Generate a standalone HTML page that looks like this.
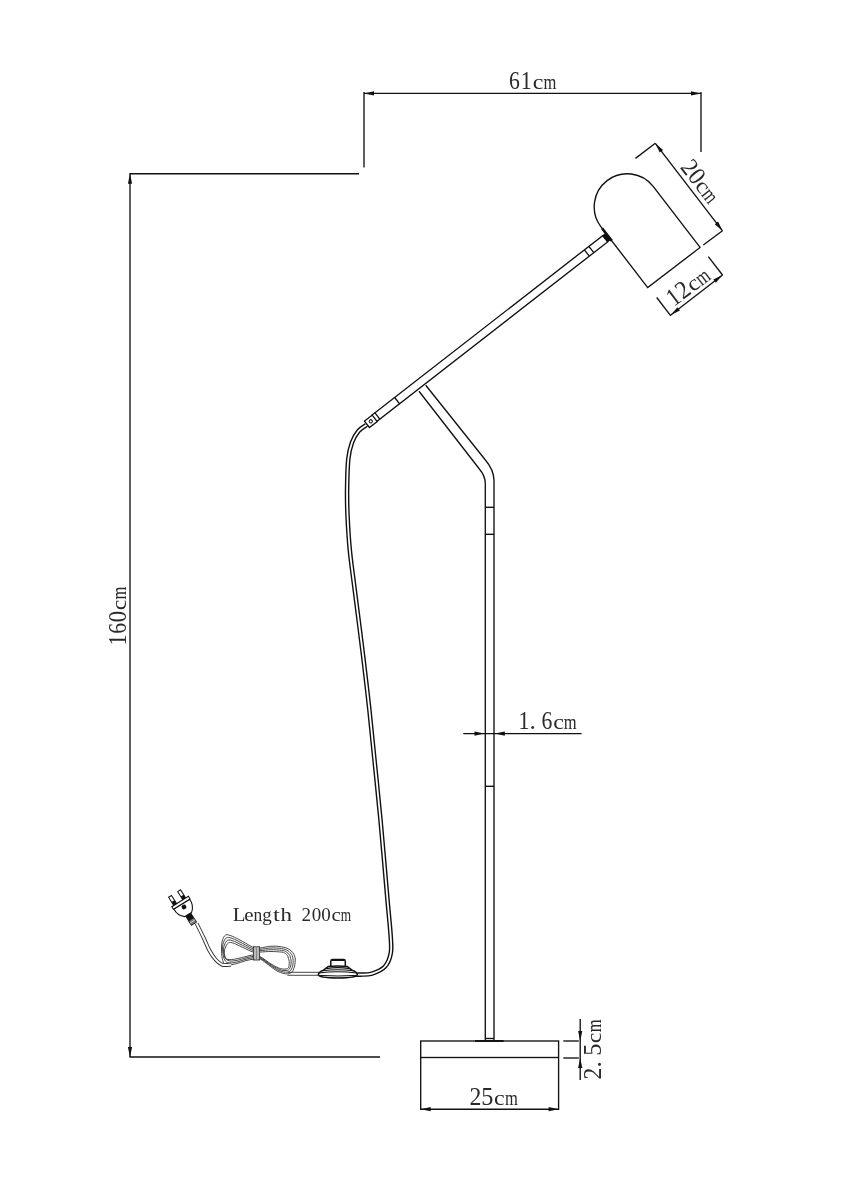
<!DOCTYPE html>
<html><head><meta charset="utf-8"><style>
html,body{margin:0;padding:0;background:#fff;}
svg{display:block;will-change:transform;}
text{font-family:"Liberation Serif", serif;fill:#2a2a2a;}
</style></head><body>
<svg width="849" height="1200" viewBox="0 0 849 1200">
<line x1="364.00" y1="93.40" x2="701.00" y2="93.40" stroke="#111" stroke-width="1.35"/>
<polygon points="364.00,93.40 374.00,91.30 374.00,95.50" fill="#111"/>
<polygon points="701.00,93.40 691.00,95.50 691.00,91.30" fill="#111"/>
<line x1="364.00" y1="92.00" x2="364.00" y2="167.50" stroke="#111" stroke-width="1.35"/>
<line x1="701.00" y1="92.00" x2="701.00" y2="152.00" stroke="#111" stroke-width="1.35"/>
<g transform="translate(0.00 0.00) rotate(0)" font-size="25.5" text-anchor="middle"><text transform="translate(514.50 89.30) scale(0.85 1)">6</text><text transform="translate(526.30 89.30) scale(0.86 1)">1</text><text transform="translate(538.10 89.30) scale(0.94 0.86)">c</text><text transform="translate(549.90 89.30) scale(0.65 0.86)">m</text></g>
<line x1="129.50" y1="173.70" x2="359.00" y2="173.70" stroke="#111" stroke-width="1.35"/>
<line x1="129.50" y1="1057.00" x2="380.00" y2="1057.00" stroke="#111" stroke-width="1.35"/>
<line x1="130.00" y1="173.70" x2="130.00" y2="1057.00" stroke="#111" stroke-width="1.35"/>
<polygon points="130.00,173.70 132.10,183.70 127.90,183.70" fill="#111"/>
<polygon points="130.00,1057.00 127.90,1047.00 132.10,1047.00" fill="#111"/>
<g transform="translate(125.60 640.10) rotate(-90)" font-size="25.5" text-anchor="middle"><text transform="translate(0.00 0.00) scale(0.86 1)">1</text><text transform="translate(11.75 0.00) scale(0.85 1)">6</text><text transform="translate(23.50 0.00) scale(0.92 1)">0</text><text transform="translate(35.25 0.00) scale(0.94 0.86)">c</text><text transform="translate(47.00 0.00) scale(0.65 0.86)">m</text></g>
<path d="M700.06,247.46 L653.17,186.40 A33,33 0 0 0 600.83,226.60 L647.72,287.66 Z" fill="none" stroke="#111" stroke-width="1.35"/>
<line x1="655.30" y1="143.30" x2="722.50" y2="230.80" stroke="#111" stroke-width="1.35"/>
<polygon points="655.30,143.30 663.06,149.95 659.73,152.51" fill="#111"/>
<polygon points="722.50,230.80 714.74,224.15 718.07,221.59" fill="#111"/>
<line x1="635.50" y1="158.40" x2="655.30" y2="143.30" stroke="#111" stroke-width="1.35"/>
<line x1="722.50" y1="230.80" x2="703.30" y2="245.00" stroke="#111" stroke-width="1.35"/>
<line x1="670.80" y1="315.00" x2="722.50" y2="275.00" stroke="#111" stroke-width="1.35"/>
<polygon points="670.80,315.00 677.42,307.22 679.99,310.54" fill="#111"/>
<polygon points="722.50,275.00 715.88,282.78 713.31,279.46" fill="#111"/>
<line x1="708.30" y1="256.70" x2="722.50" y2="275.00" stroke="#111" stroke-width="1.35"/>
<line x1="656.70" y1="297.50" x2="670.80" y2="315.80" stroke="#111" stroke-width="1.35"/>
<g transform="translate(654.80 143.50) rotate(51.9)" font-size="25.5" text-anchor="middle"><text transform="translate(40.00 -4.60) scale(0.93 1)">2</text><text transform="translate(51.70 -4.60) scale(0.92 1)">0</text><text transform="translate(63.40 -4.60) scale(0.94 0.86)">c</text><text transform="translate(75.10 -4.60) scale(0.65 0.86)">m</text></g>
<g transform="translate(671.10 314.40) rotate(-37.1)" font-size="25.5" text-anchor="middle"><text transform="translate(12.30 -4.20) scale(0.86 1)">1</text><text transform="translate(24.10 -4.20) scale(0.93 1)">2</text><text transform="translate(35.90 -4.20) scale(0.94 0.86)">c</text><text transform="translate(47.70 -4.20) scale(0.65 0.86)">m</text></g>
<polygon points="371.80,415.30 602.70,235.60 607.61,241.91 376.71,421.61" fill="none" stroke="#111" stroke-width="1.35"/>
<line x1="374.96" y1="412.84" x2="379.87" y2="419.16" stroke="#111" stroke-width="1.35"/>
<line x1="394.69" y1="397.49" x2="399.60" y2="403.80" stroke="#111" stroke-width="1.35"/>
<line x1="584.39" y1="249.85" x2="589.30" y2="256.16" stroke="#111" stroke-width="1.35"/>
<line x1="588.89" y1="246.35" x2="593.80" y2="252.66" stroke="#111" stroke-width="1.35"/>
<polygon points="602.70,235.60 605.86,233.14 610.73,239.49 607.61,241.91" fill="#111" stroke="#111" stroke-width="1"/>
<line x1="602.05" y1="228.18" x2="611.79" y2="240.87" stroke="#111" stroke-width="2.6"/>
<path d="M419,391.25 L479,468.5 Q485.3,476 485.3,483.5 L485.3,1041" fill="none" stroke="#111" stroke-width="1.35"/>
<path d="M425.75,385.25 L485,459.5 Q494,470 494,480.5 L494,1041" fill="none" stroke="#111" stroke-width="1.35"/>
<line x1="485.30" y1="507.30" x2="494.00" y2="507.30" stroke="#111" stroke-width="1.35"/>
<line x1="485.30" y1="534.30" x2="494.00" y2="534.30" stroke="#111" stroke-width="1.35"/>
<line x1="485.30" y1="786.30" x2="494.00" y2="786.30" stroke="#111" stroke-width="1.35"/>
<line x1="485.30" y1="1038.50" x2="494.00" y2="1038.50" stroke="#111" stroke-width="1.35"/>
<line x1="463.30" y1="733.60" x2="581.60" y2="733.60" stroke="#111" stroke-width="1.35"/>
<polygon points="484.50,733.60 474.50,735.70 474.50,731.50" fill="#111"/>
<polygon points="494.80,733.60 504.80,731.50 504.80,735.70" fill="#111"/>
<g transform="translate(0.00 0.00) rotate(0)" font-size="25.5" text-anchor="middle"><text transform="translate(524.10 729.20) scale(0.86 1)">1</text><text transform="translate(532.60 729.20) scale(1 1)">.</text><text transform="translate(546.80 729.20) scale(0.85 1)">6</text><text transform="translate(558.50 729.20) scale(0.94 0.86)">c</text><text transform="translate(570.30 729.20) scale(0.65 0.86)">m</text></g>
<rect x="420.7" y="1041" width="137.9" height="16.5" fill="none" stroke="#111" stroke-width="1.35"/>
<line x1="475.00" y1="1041.00" x2="503.60" y2="1041.00" stroke="#111" stroke-width="1.9"/>
<line x1="420.70" y1="1058.00" x2="420.70" y2="1110.00" stroke="#111" stroke-width="1.35"/>
<line x1="558.60" y1="1058.00" x2="558.60" y2="1110.00" stroke="#111" stroke-width="1.35"/>
<line x1="420.70" y1="1109.20" x2="558.60" y2="1109.20" stroke="#111" stroke-width="1.35"/>
<polygon points="420.70,1109.20 430.70,1107.10 430.70,1111.30" fill="#111"/>
<polygon points="558.60,1109.20 548.60,1111.30 548.60,1107.10" fill="#111"/>
<g transform="translate(0.00 0.00) rotate(0)" font-size="25.5" text-anchor="middle"><text transform="translate(475.40 1104.50) scale(0.93 1)">2</text><text transform="translate(487.40 1104.50) scale(0.95 1)">5</text><text transform="translate(499.40 1104.50) scale(0.94 0.86)">c</text><text transform="translate(511.40 1104.50) scale(0.65 0.86)">m</text></g>
<line x1="563.30" y1="1041.00" x2="578.80" y2="1041.00" stroke="#111" stroke-width="1.35"/>
<line x1="563.30" y1="1058.00" x2="578.80" y2="1058.00" stroke="#111" stroke-width="1.35"/>
<line x1="580.20" y1="1019.00" x2="580.20" y2="1041.00" stroke="#111" stroke-width="1.35"/>
<polygon points="580.20,1041.00 578.10,1031.00 582.30,1031.00" fill="#111"/>
<line x1="580.20" y1="1058.00" x2="580.20" y2="1080.00" stroke="#111" stroke-width="1.35"/>
<line x1="580.20" y1="1041.00" x2="580.20" y2="1058.00" stroke="#111" stroke-width="1.35"/>
<polygon points="580.20,1058.00 582.30,1068.00 578.10,1068.00" fill="#111"/>
<g transform="translate(601.10 1073.60) rotate(-90)" font-size="25.5" text-anchor="middle"><text transform="translate(0.00 0.00) scale(0.93 1)">2</text><text transform="translate(9.20 0.00) scale(1 1)">.</text><text transform="translate(24.00 0.00) scale(0.95 1)">5</text><text transform="translate(35.70 0.00) scale(0.94 0.86)">c</text><text transform="translate(47.70 0.00) scale(0.65 0.86)">m</text></g>
<path d="M366.50,425.00 C365.17,426.00 360.92,428.08 358.50,431.00 C356.08,433.92 353.70,437.83 352.00,442.50 C350.30,447.17 349.12,451.28 348.30,459.00 C347.48,466.72 347.23,479.47 347.10,488.80 C346.97,498.13 347.05,504.80 347.50,515.00 C347.95,525.20 348.70,538.33 349.80,550.00 C350.90,561.67 351.90,567.50 354.10,585.00 C356.30,602.50 360.45,634.17 363.00,655.00 C365.55,675.83 367.40,691.67 369.40,710.00 C371.40,728.33 373.15,746.67 375.00,765.00 C376.85,783.33 378.42,797.50 380.50,820.00 C382.58,842.50 385.82,880.83 387.50,900.00 C389.18,919.17 390.05,926.17 390.60,935.00 C391.15,943.83 391.73,947.75 390.80,953.00 C389.87,958.25 388.13,963.07 385.00,966.50 C381.87,969.93 376.17,972.25 372.00,973.60 C367.83,974.95 363.67,974.42 360.00,974.60 C356.33,974.78 351.67,974.68 350.00,974.70" fill="none" stroke="#111" stroke-width="4.6"/>
<path d="M366.50,425.00 C365.17,426.00 360.92,428.08 358.50,431.00 C356.08,433.92 353.70,437.83 352.00,442.50 C350.30,447.17 349.12,451.28 348.30,459.00 C347.48,466.72 347.23,479.47 347.10,488.80 C346.97,498.13 347.05,504.80 347.50,515.00 C347.95,525.20 348.70,538.33 349.80,550.00 C350.90,561.67 351.90,567.50 354.10,585.00 C356.30,602.50 360.45,634.17 363.00,655.00 C365.55,675.83 367.40,691.67 369.40,710.00 C371.40,728.33 373.15,746.67 375.00,765.00 C376.85,783.33 378.42,797.50 380.50,820.00 C382.58,842.50 385.82,880.83 387.50,900.00 C389.18,919.17 390.05,926.17 390.60,935.00 C391.15,943.83 391.73,947.75 390.80,953.00 C389.87,958.25 388.13,963.07 385.00,966.50 C381.87,969.93 376.17,972.25 372.00,973.60 C367.83,974.95 363.67,974.42 360.00,974.60 C356.33,974.78 351.67,974.68 350.00,974.70" fill="none" stroke="#fff" stroke-width="1.8"/>
<g transform="translate(370.8 421.3) rotate(-37.5)"><rect x="-4.9" y="-4.1" width="9.8" height="8.2" fill="#fff" stroke="#111" stroke-width="1.3"/><circle cx="0" cy="0" r="1.6" fill="none" stroke="#111" stroke-width="1"/></g>
<path d="M330.8,966.2 L330.8,961.2 Q330.8,959.6 332.5,959.6 L343.6,959.6 Q345.3,959.6 345.3,961.2 L345.3,966.2" fill="#fff" stroke="#111" stroke-width="1.5"/>
<line x1="331.50" y1="960.20" x2="344.60" y2="960.20" stroke="#111" stroke-width="1.6"/>
<path d="M318.3,974.6 Q318.5,971.8 323.5,970.2 L328,966.6 Q337.8,965.4 347.5,966.6 L352,970.2 Q357.3,971.8 357.3,974.6 Q357,977.8 337.8,977.9 Q318.6,977.8 318.3,974.6 Z" fill="#fff" stroke="#111" stroke-width="1.5"/>
<path d="M326,968.6 Q337.8,966.8 349.6,968.6" fill="none" stroke="#111" stroke-width="1.2"/>
<path d="M322.5,970.8 Q337.8,968.8 353.1,970.8" fill="none" stroke="#111" stroke-width="1.1"/>
<path d="M319,973.0 Q337.8,970.6 356.6,973.0" fill="none" stroke="#111" stroke-width="1.1"/>
<path d="M319.2,975.4 Q337.8,976.6 356.4,975.4" fill="none" stroke="#111" stroke-width="1.0"/>
<path d="M253.30,952.10 C250.35,951.33 246.23,948.97 242.70,947.40 C239.17,945.83 234.65,943.30 232.10,942.70 C229.55,942.10 228.68,942.43 227.40,943.80 C226.12,945.17 224.70,948.53 224.40,950.90 C224.10,953.27 224.83,956.55 225.60,958.00 C226.37,959.45 227.52,959.40 229.00,959.60 C230.48,959.80 232.67,959.47 234.50,959.20 C236.33,958.93 238.25,958.40 240.00,958.00 C241.75,957.60 242.78,957.30 245.00,956.80 C247.22,956.30 250.73,955.00 253.30,955.00 C255.87,955.00 257.45,955.32 260.40,956.80 C263.35,958.28 267.67,961.93 271.00,963.90 C274.33,965.87 277.65,967.82 280.40,968.60 C283.15,969.38 286.07,969.12 287.50,968.60 C288.93,968.08 288.72,966.68 289.00,965.50 C289.28,964.32 289.45,963.15 289.20,961.50 C288.95,959.85 288.27,957.02 287.50,955.60 C286.73,954.18 285.58,953.58 284.60,953.00 C283.62,952.42 283.87,952.35 281.60,952.10 C279.33,951.85 274.53,951.52 271.00,951.50 C267.47,951.48 263.35,951.90 260.40,952.00 C257.45,952.10 256.25,952.87 253.30,952.10 Z" fill="none" stroke="#333" stroke-width="0.9"/>
<path d="M253.30,950.53 C250.38,949.66 246.23,947.10 242.70,945.43 C239.17,943.77 234.75,941.29 232.10,940.53 C229.45,939.77 228.21,939.66 226.80,940.87 C225.39,942.07 224.06,945.31 223.63,947.77 C223.21,950.23 223.69,953.62 224.23,955.63 C224.78,957.64 225.65,958.92 226.90,959.83 C228.15,960.75 229.79,961.11 231.73,961.13 C233.67,961.16 236.32,960.46 238.53,959.97 C240.74,959.47 242.54,958.76 245.00,958.17 C247.46,957.57 250.73,956.49 253.30,956.40 C255.87,956.31 257.58,956.29 260.40,957.60 C263.22,958.91 267.00,962.27 270.20,964.27 C273.40,966.26 276.72,968.55 279.60,969.57 C282.48,970.58 285.72,970.74 287.50,970.37 C289.28,969.99 289.66,968.71 290.27,967.30 C290.88,965.89 291.24,963.85 291.17,961.90 C291.09,959.95 290.64,957.27 289.83,955.60 C289.03,953.93 287.71,952.78 286.33,951.90 C284.96,951.02 284.16,950.69 281.60,950.33 C279.04,949.97 274.57,949.68 271.00,949.73 C267.43,949.79 263.15,950.53 260.20,950.67 C257.25,950.80 256.22,951.41 253.30,950.53 Z" fill="none" stroke="#333" stroke-width="0.9"/>
<path d="M253.30,948.97 C250.42,947.99 246.23,945.23 242.70,943.47 C239.17,941.70 234.85,939.29 232.10,938.37 C229.35,937.44 227.74,936.89 226.20,937.93 C224.66,938.98 223.42,942.08 222.87,944.63 C222.31,947.19 222.54,950.69 222.87,953.27 C223.19,955.84 223.78,958.43 224.80,960.07 C225.82,961.70 226.92,962.76 228.97,963.07 C231.01,963.38 234.39,962.52 237.07,961.93 C239.74,961.34 242.29,960.22 245.00,959.53 C247.71,958.84 250.73,957.99 253.30,957.80 C255.87,957.61 257.72,957.26 260.40,958.40 C263.08,959.54 266.33,962.61 269.40,964.63 C272.47,966.66 275.78,969.28 278.80,970.53 C281.82,971.78 285.38,972.37 287.50,972.13 C289.62,971.89 290.59,970.74 291.53,969.10 C292.47,967.46 293.03,964.55 293.13,962.30 C293.24,960.05 293.01,957.52 292.17,955.60 C291.32,953.68 289.83,951.97 288.07,950.80 C286.31,949.63 284.44,949.04 281.60,948.57 C278.76,948.09 274.60,947.84 271.00,947.97 C267.40,948.09 262.95,949.17 260.00,949.33 C257.05,949.50 256.18,949.94 253.30,948.97 Z" fill="none" stroke="#333" stroke-width="0.9"/>
<path d="M253.30,947.40 C250.45,946.32 246.23,943.37 242.70,941.50 C239.17,939.63 234.95,937.28 232.10,936.20 C229.25,935.12 227.27,934.12 225.60,935.00 C223.93,935.88 222.78,938.85 222.10,941.50 C221.42,944.15 221.40,947.77 221.50,950.90 C221.60,954.03 221.92,957.95 222.70,960.30 C223.48,962.65 224.05,964.40 226.20,965.00 C228.35,965.60 232.47,964.58 235.60,963.90 C238.73,963.22 242.05,961.68 245.00,960.90 C247.95,960.12 250.73,959.48 253.30,959.20 C255.87,958.92 257.85,958.23 260.40,959.20 C262.95,960.17 265.67,962.95 268.60,965.00 C271.53,967.05 274.85,970.02 278.00,971.50 C281.15,972.98 285.03,974.00 287.50,973.90 C289.97,973.80 291.53,972.77 292.80,970.90 C294.07,969.03 294.82,965.25 295.10,962.70 C295.38,960.15 295.38,957.77 294.50,955.60 C293.62,953.43 291.95,951.17 289.80,949.70 C287.65,948.23 284.73,947.38 281.60,946.80 C278.47,946.22 274.63,946.00 271.00,946.20 C267.37,946.40 262.75,947.80 259.80,948.00 C256.85,948.20 256.15,948.48 253.30,947.40 Z" fill="none" stroke="#333" stroke-width="0.9"/>
<rect x="253.4" y="946.8" width="6.2" height="13.2" fill="#bbb" stroke="#333" stroke-width="0.9"/>
<line x1="256.5" y1="948" x2="256.5" y2="959" stroke="#777" stroke-width="0.8"/>
<line x1="287.50" y1="972.30" x2="319.00" y2="972.30" stroke="#333" stroke-width="0.9"/>
<line x1="287.50" y1="975.30" x2="319.00" y2="975.30" stroke="#333" stroke-width="0.9"/>
<path d="M196.60,923.50 C197.83,926.02 201.88,934.13 204.00,938.60 C206.12,943.07 207.42,946.87 209.30,950.30 C211.18,953.73 213.10,956.78 215.30,959.20 C217.50,961.62 219.88,963.92 222.50,964.80 C225.12,965.68 229.58,964.55 231.00,964.50" fill="none" stroke="#333" stroke-width="3.9"/>
<path d="M196.60,923.50 C197.83,926.02 201.88,934.13 204.00,938.60 C206.12,943.07 207.42,946.87 209.30,950.30 C211.18,953.73 213.10,956.78 215.30,959.20 C217.50,961.62 219.88,963.92 222.50,964.80 C225.12,965.68 229.58,964.55 231.00,964.50" fill="none" stroke="#fff" stroke-width="2.0"/>
<g transform="translate(180.9 902.8) rotate(-32)"><rect x="-7.5" y="-11.2" width="3.4" height="10" fill="#fff" stroke="#111" stroke-width="1.0"/><rect x="3.2" y="-11.2" width="3.4" height="10" fill="#fff" stroke="#111" stroke-width="1.0"/><rect x="-7.5" y="-5.5" width="3.4" height="4.5" fill="#111"/><rect x="3.2" y="-5.5" width="3.4" height="4.5" fill="#111"/><path d="M-9.3,1.6 L9.3,1.6 Q10,9 4,13.8 L-4,13.8 Q-10,9 -9.3,1.6 Z" fill="#fff" stroke="#111" stroke-width="1.1"/><rect x="-9.8" y="-1.5" width="19.6" height="3.1" fill="#fff" stroke="#111" stroke-width="1.1"/><circle cx="0.4" cy="5.2" r="2.4" fill="#111"/><rect x="-3.4" y="13.5" width="6.8" height="6" fill="#111"/><rect x="-3.1" y="19.5" width="6.2" height="5.2" fill="#777" stroke="#111" stroke-width="0.8"/><line x1="-3.1" y1="22" x2="3.1" y2="22" stroke="#ddd" stroke-width="0.8"/></g>
<g transform="translate(0.00 0.00) rotate(0)" font-size="19" text-anchor="middle"><text transform="translate(239.00 921.40) scale(1.1 0.95)">L</text><text transform="translate(248.80 921.40) scale(1.1 1)">e</text><text transform="translate(257.90 921.40) scale(0.92 1)">n</text><text transform="translate(267.00 921.40) scale(1 1)">g</text><text transform="translate(276.40 921.40) scale(1.3 1)">t</text><text transform="translate(286.20 921.40) scale(1.2 1)">h</text><text transform="translate(306.30 921.40) scale(1 1)">2</text><text transform="translate(316.40 921.40) scale(1 1)">0</text><text transform="translate(325.90 921.40) scale(1 1)">0</text><text transform="translate(336.20 921.40) scale(1.12 0.95)">c</text><text transform="translate(345.90 921.40) scale(0.7 0.95)">m</text></g>
</svg>
</body></html>
